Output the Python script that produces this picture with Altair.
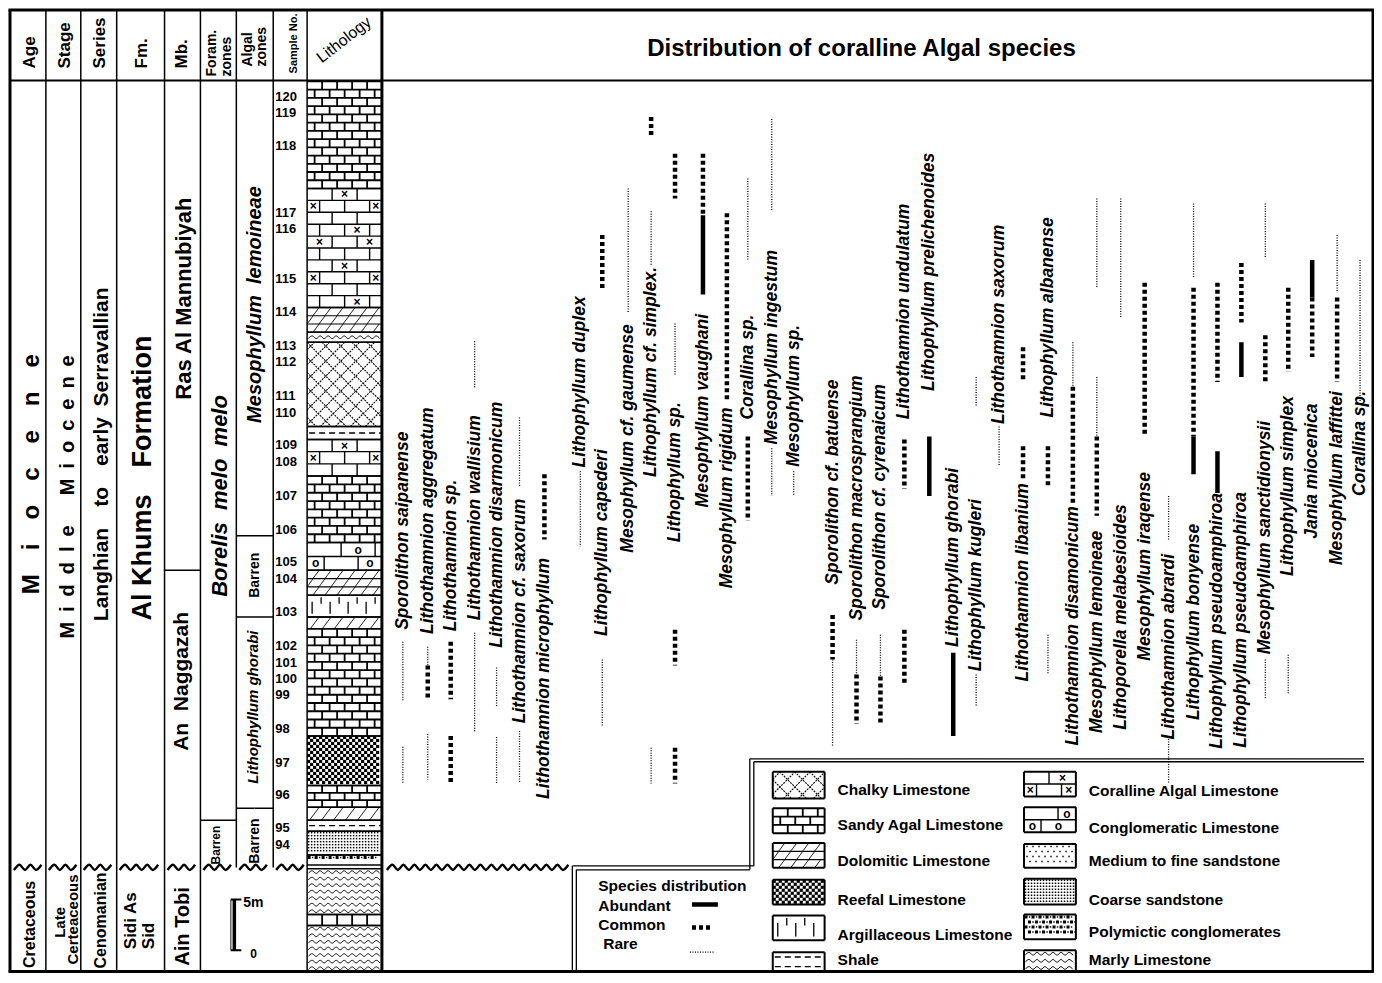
import altair as alt
import numpy as np
import pandas as pd

W, H = 1366, 965
X_DOMAIN = [6, 1376]      # horizontal position on the sheet
Y_DOMAIN = [0, 97.3]      # height above the base of the section (m)
PXU = W / (X_DOMAIN[1] - X_DOMAIN[0])
PXM = H / (Y_DOMAIN[1] - Y_DOMAIN[0])
FONT = "Liberation Sans"

# ---------------------------------------------------------------- data
SAMPLE_NO = [120, 119, 118, 117, 116, 115, 114, 113, 112, 111, 110, 109, 108,
             107, 106, 105, 104, 103, 102, 101, 100, 99, 98, 97, 96, 95, 94]
SAMPLE_M = [88.3, 86.7, 83.4, 76.6, 75.0, 70.0, 66.6, 63.2, 61.6, 58.2, 56.5, 53.2, 51.5,
            48.1, 44.7, 41.4, 39.7, 36.4, 33.0, 31.3, 29.6, 28.0, 24.6, 21.2, 17.9, 14.6, 12.9]

LITHO_TOP = [89.9, 79.1, 67.1, 64.6, 63.6, 55.1, 53.8, 50.1, 43.4, 40.6, 38.1,
             35.9, 34.7, 23.9, 18.9, 16.7, 15.4, 14.3, 11.9, 10.5, 5.9, 4.8]
LITHO_BASE = [79.1, 67.1, 64.6, 63.6, 55.1, 53.8, 50.1, 43.4, 40.6, 38.1, 35.9,
              34.7, 23.9, 18.9, 16.7, 15.4, 14.3, 11.9, 10.9, 5.9, 4.8, 0.15]
LITHO_TYPE = ["sandy", "coralline", "dolomitic", "marly", "chalky", "shale", "coralline",
              "sandy", "conglomeratic", "dolomitic", "argillaceous", "dolomitic", "sandy",
              "reefal", "sandy", "dolomitic", "shale", "coarse", "polymictic", "marly",
              "sandy", "marly"]

SPECIES = [
    "Sporolithon saipanense", "Lithothamnion aggregatum", "Lithothamnion sp.",
    "Lithothamnion wallisium", "Lithothamnion disarmonicum", "Lithothamnion cf. saxorum",
    "Lithothamnion microphyllum", "Lithophyllum duplex", "Lithophyllum capederi",
    "Mesophyllum cf. gaumense", "Lithophyllum cf. simplex.", "Lithophyllum sp.",
    "Mesophyllum vaughani", "Mesophyllum rigidum", "Corallina sp.", "Mesophyllum ingestum",
    "Mesophyllum sp.", "Sporolithon cf. batuense", "Sporolithon macrosprangium",
    "Sporolithon cf. cyrenaicum", "Lithothamnion undulatum", "Lithophyllum prelichenoides",
    "Lithophyllum ghorabi", "Lithophyllum kugleri", "Lithothamnion saxorum",
    "Lithothamnion libanium", "Lithophyllum albanense", "Lithothamnion disamonicum",
    "Mesophyllum lemoineae", "Lithoporella melabesioides", "Mesophyllum iraqense",
    "Lithothamnion abrardi", "Lithophyllum bonyense", "Lithophyllum pseudoamphiroa",
    "Lithophyllum pseudoamphiroa", "Mesophyllum sanctidionysii", "Lithophyllum simplex",
    "Jania miocenica", "Mesophyllum laffittei", "Corallina sp."]
SPECIES_X = [402, 427, 450, 474, 496, 519, 544, 580, 602, 628, 651, 675, 703, 727, 748,
             772, 794, 833, 857, 881, 905, 930, 954, 977, 1000, 1024, 1049, 1074, 1098,
             1122, 1146, 1170, 1195, 1219, 1243, 1267, 1290, 1314, 1339, 1362]
LABEL_M = [44.6, 45.6, 42.1, 45.9, 45.2, 36.5, 29.7, 59.6, 43.4, 53.9, 60.6, 50.5, 56.7,
           47.9, 61.1, 63.1, 58.2, 49.5, 47.9, 48.0, 66.7, 70.7, 41.9, 39.1, 65.4, 39.4,
           66.1, 35.0, 34.4, 35.9, 41.0, 32.9, 35.4, 35.5, 35.6, 43.9, 49.1, 50.6, 49.9, 53.4]
# (top m, base m, abundance) for each species, same order as SPECIES
RANGES = [
    [(33.4, 27.5, "rare"), (22.8, 19.1, "rare")],
    [(32.9, 31.0, "rare"), (31.0, 27.5, "common"), (24.1, 19.5, "rare")],
    [(33.4, 27.6, "common"), (23.9, 19.1, "common")],
    [(63.7, 58.9, "rare"), (34.3, 24.3, "rare")],
    [(30.8, 26.8, "rare"), (23.8, 19.1, "rare")],
    [(56.0, 49.0, "rare"), (24.4, 19.1, "rare")],
    [(50.3, 43.7, "common")],
    [(50.6, 43.0, "rare")],
    [(74.4, 68.8, "common"), (31.6, 24.9, "rare")],
    [(79.1, 66.6, "rare")],
    [(86.3, 84.3, "common"), (76.8, 71.3, "rare"), (22.7, 19.1, "rare")],
    [(82.6, 78.1, "common"), (65.5, 60.3, "rare"), (34.6, 31.0, "common"), (22.7, 19.1, "common")],
    [(82.6, 76.4, "common"), (76.4, 68.4, "abundant")],
    [(76.6, 57.8, "common")],
    [(80.1, 71.9, "rare"), (54.1, 45.6, "common")],
    [(86.1, 76.8, "rare"), (52.9, 48.1, "rare")],
    [(50.6, 48.1, "rare")],
    [(36.1, 31.6, "common"), (31.6, 22.9, "rare")],
    [(33.6, 30.1, "rare"), (30.1, 25.1, "common")],
    [(34.1, 29.9, "rare"), (29.9, 25.1, "common")],
    [(53.8, 48.8, "common"), (34.6, 29.1, "common")],
    [(54.1, 48.1, "abundant")],
    [(32.3, 23.9, "abundant")],
    [(60.1, 57.1, "rare"), (30.1, 26.9, "rare")],
    [(55.1, 51.1, "rare")],
    [(63.1, 59.6, "common"), (53.1, 49.6, "common")],
    [(53.1, 49.1, "common"), (34.1, 30.1, "rare")],
    [(63.6, 59.1, "rare"), (59.1, 47.1, "common")],
    [(78.1, 69.1, "rare"), (60.1, 54.1, "rare"), (54.1, 46.1, "common")],
    [(78.1, 66.1, "rare")],
    [(69.6, 54.1, "common")],
    [(48.1, 43.6, "rare"), (23.6, 19.1, "rare")],
    [(77.6, 70.1, "rare"), (69.1, 54.1, "common"), (54.1, 50.3, "abundant")],
    [(69.6, 59.6, "common"), (52.6, 48.4, "abundant")],
    [(71.6, 65.6, "common"), (63.6, 60.1, "abundant")],
    [(77.6, 72.1, "rare"), (64.3, 59.6, "common"), (31.6, 27.6, "rare")],
    [(69.1, 60.6, "common"), (32.1, 28.1, "rare")],
    [(71.9, 68.1, "abundant"), (68.1, 62.1, "common")],
    [(74.4, 68.6, "rare"), (68.1, 59.6, "common")],
    [(71.9, 57.6, "rare")],
]

LEG_TYPES = [["chalky", "sandy", "dolomitic", "reefal", "argillaceous", "shale"],
             ["coralline", "conglomeratic", "medium", "coarse", "polymictic", "marly"]]
LEG_NAMES = [["Chalky Limestone", "Sandy Agal Limestone", "Dolomitic Limestone",
              "Reefal Limestone", "Argillaceous Limestone", "Shale"],
             ["Coralline Algal Limestone", "Conglomeratic Limestone", "Medium to fine sandstone",
              "Coarse sandstone", "Polymictic conglomerates", "Marly Limestone"]]
LEG_BOX_TOP = [[20.3, 16.6, 13.1, 9.4, 5.8, 2.1], [20.3, 16.7, 13.0, 9.5, 5.9, 2.3]]
LEG_BOX_BASE = [[17.6, 14.1, 10.6, 6.9, 3.3, 0.15], [17.8, 14.2, 10.6, 6.9, 3.4, 0.15]]
LEG_LABEL_M = [[18.5, 14.9, 11.3, 7.4, 3.8, 1.3], [18.4, 14.6, 11.3, 7.4, 4.1, 1.3]]
LEG_BOX_X = [(773, 825), (1025, 1077)]
LEG_LABEL_X = [838, 1090]

# ---------------------------------------------------------------- builders
rules, squares, texts, waves = [], [], [], []


def rule(x, x2, y, y2, w=1.5, d="solid"):
    rules.append(dict(x=float(x), x2=float(x2), y=float(y), y2=float(y2), w=float(w), d=d))


def dot(x, y, s):
    squares.append(dict(x=float(x), y=float(y), s=float(s)))


def txt(t, x, y, fs, ang=0, align="center", italic=False, bold=True, font=FONT):
    texts.append(dict(t=t, x=float(x), y=float(y), fs=float(fs), ang=float(ang), align=align,
                      style="italic" if italic else "normal",
                      weight="bold" if bold else "normal", font=font))


wave_count = [0]


def wave(x0, x1, y, amp=1.4, step=4.0, w=0.9):
    gid = wave_count[0]
    wave_count[0] += 1
    for k, p in enumerate(np.arange(1, (x1 - x0) * PXU - 0.5, step)):
        waves.append(dict(x=float(x0 + p / PXU), y=float(y + (amp / PXM) * (1 if k % 2 else -1)),
                          g=gid, w=float(w)))


BRICK = {"sandy": (8.4, 15, 1.8), "coralline": (11.7, 25, 1.4),
         "conglomeratic": (13.5, 34, 1.4), "dolomitic": (9.5, 12, 1.1)}


def fill(kind, x0, x1, top, base):
    wpx = (x1 - x0) * PXU
    hpx = (top - base) * PXM
    X = lambda p: x0 + p / PXU
    Y = lambda p: top - p / PXM
    if kind in BRICK:
        row, brick, lw = BRICK[kind]
        n = max(1, int(round(hpx / row)))
        h = hpx / n
        for r in range(1, n):
            rule(x0, x1, Y(r * h), Y(r * h), lw)
        for r in range(n):
            start = brick / 2 if r % 2 else brick
            verts = list(np.arange(start, wpx - 2, brick))
            for xs in verts:
                if kind == "dolomitic":
                    rule(X(max(0, xs - 0.75 * h)), X(xs), Y((r + 1) * h), Y(r * h), 1.0)
                else:
                    rule(X(xs), X(xs), Y(r * h), Y((r + 1) * h), lw)
            edges = [0.0] + verts + [wpx]
            centers = [(a + b) / 2 for a, b in zip(edges[:-1], edges[1:]) if b - a > 12]
            yc = Y((r + 0.5) * h)
            if kind == "coralline" and centers:
                pick = [[centers[len(centers) // 2]], [centers[0], centers[-1]], []][r % 3]
                for c in sorted(set(pick)):
                    txt("×", X(c), yc, 12)
            if kind == "conglomeratic" and centers:
                pick = [[centers[-1]], [centers[0], centers[-1]]][r % 2]
                for c in sorted(set(pick)):
                    txt("o", X(c), yc, 12)
    elif kind == "chalky":
        s = 15.0
        for c in np.arange(-wpx, hpx, s):
            u0, u1 = max(0, -c), min(wpx, hpx - c)
            if u1 > u0:
                rule(X(u0), X(u1), Y(u0 + c), Y(u1 + c), 1.1, "chalk")
        for c in np.arange(s / 2, wpx + hpx, s):
            u0, u1 = max(0, c - hpx), min(wpx, c)
            if u1 > u0:
                rule(X(u0), X(u1), Y(c - u0), Y(c - u1), 1.1, "chalk")
    elif kind == "shale":
        n = max(1, int(hpx // 7.5))
        for r in range(n):
            yy = Y((r + 0.5) * hpx / n)
            rule(X(2), x1, yy, yy, 1.3, "shale")
    elif kind == "argillaceous":
        for k, xs in enumerate(np.arange(5, wpx - 2, 9)):
            a, b = (0.3, 0.85) if k % 2 == 0 else (0.1, 0.4)
            rule(X(xs), X(xs), Y(a * hpx), Y(b * hpx), 1.3)
    elif kind == "reefal":
        for i in range(int(wpx // 3)):
            for j in range(int(hpx // 3)):
                if (i + j) % 2 == 0:
                    dot(X(1.5 + 3 * i), Y(1.5 + 3 * j), 10)
    elif kind == "coarse":
        for i in range(int(wpx // 3)):
            for j in range(int(hpx // 3)):
                dot(X(1.5 + 3 * i), Y(1.5 + 3 * j), 2.2)
    elif kind == "medium":
        for j in range(int(hpx // 5)):
            for i in range(int(wpx // 6)):
                dot(X(3 + 6 * i + (3 if j % 2 else 0)), Y(2.5 + 5 * j), 2)
    elif kind == "polymictic":
        for j in range(int(hpx // 5)):
            for i in range(int(wpx // 7)):
                off = 3.5 if j % 2 else 0
                dot(X(2 + 7 * i + off), Y(2.5 + 5 * j), 9)
                dot(X(5.5 + 7 * i + off), Y(2.5 + 5 * j), 2)
    elif kind == "marly":
        n = max(1, int(round(hpx / 7)))
        for r in range(n):
            wave(x0, x1, Y((r + 0.5) * hpx / n))


# ---------------------------------------------------------------- frame and columns
TOP, HEAD, BASE = 97.1, 90.0, 0.15
LEFT, RIGHT = 8, 1375
UNCONF = 10.65
rule(LEFT - 1.5, RIGHT + 1.5, TOP, TOP, 3)
rule(LEFT - 1.5, RIGHT + 1.5, BASE, BASE, 3)
rule(LEFT, LEFT, BASE, TOP, 3)
rule(RIGHT, RIGHT, BASE, TOP, 3)
rule(LEFT, RIGHT, HEAD, HEAD, 2)
COL_EDGES = [44, 79, 115, 163, 199, 235, 272, 306]
COL_FULL = [True, True, True, True, True, False, False, True]
for xe, full in zip(COL_EDGES, COL_FULL):
    rule(xe, xe, BASE if full else UNCONF, TOP, 1.5)
rule(381, 381, BASE, TOP, 3)
rule(163, 199, 40.6, 40.6, 1.5)
rule(199, 235, 15.4, 15.4, 1.5)
for m in [44.1, 35.9, 16.6]:
    rule(235, 272, m, m, 1.5)

for t, b, k in zip(LITHO_TOP, LITHO_BASE, LITHO_TYPE):
    fill(k, 306, 381, t, b)
    rule(306, 381, t, t, 1.5)
    rule(306, 381, b, b, 1.5)

# legend frames (double lines)
rule(572, 572, BASE, 10.8, 1.3)
rule(576, 576, BASE, 10.4, 1.3)
rule(572, 754, 10.8, 10.8, 1.3)
rule(576, 750, 10.4, 10.4, 1.3)
rule(750, 750, 10.4, 21.6, 1.3)
rule(754, 754, 10.8, 21.3, 1.3)
rule(750, 1366, 21.6, 21.6, 1.3)
rule(754, 1366, 21.3, 21.3, 1.3)

for col in range(2):
    x0, x1 = LEG_BOX_X[col]
    for k, name, t, b, lm in zip(LEG_TYPES[col], LEG_NAMES[col], LEG_BOX_TOP[col],
                                 LEG_BOX_BASE[col], LEG_LABEL_M[col]):
        fill(k, x0, x1, t, b)
        rule(x0, x1, t, t, 2)
        rule(x0, x1, b, b, 2)
        rule(x0, x0, b, t, 2)
        rule(x1, x1, b, t, 2)
        txt(name, LEG_LABEL_X[col], lm, 15.5, align="left")

# scale bar
rule(233, 233, 2.3, 7.4, 3.5)
rule(229.5, 229.5, 2.3, 7.4, 1)
rule(229.5, 240, 7.4, 7.4, 2)
rule(229.5, 240, 2.3, 2.3, 2)
txt("5m", 242, 7.1, 14, align="left")
txt("0", 249, 1.9, 12, align="left")

# species ranges and labels
WIDTH = {"abundant": 4.5, "common": 4.5, "rare": 1.3}
for name, xs, lm, segs in zip(SPECIES, SPECIES_X, LABEL_M, RANGES):
    for t, b, k in segs:
        rule(xs, xs, t, b, WIDTH[k], k)
    txt(name, xs, lm, 17.5, ang=270, italic=True)

txt("Species distribution", 598, 8.8, 15.5, align="left")
txt("Abundant", 598, 6.8, 15.5, align="left")
txt("Common", 598, 4.8, 15.5, align="left")
txt("Rare", 603, 2.9, 15.5, align="left")
rule(692, 718, 6.9, 6.9, WIDTH["abundant"], "abundant")
rule(692, 713, 4.6, 4.6, WIDTH["common"], "common")
rule(690, 715, 2.1, 2.1, WIDTH["rare"], "rare")

# unconformity (heavy wavy line)
for a, b in [(9, 44), (44, 79), (79, 115), (115, 163), (163, 199), (199, 235), (235, 272),
             (272, 306), (383, 570)]:
    wave(a + 2, b - 1, UNCONF, amp=2.6, step=5.5, w=2.4)

# header
for label, xh in [("Age", 28), ("Stage", 63), ("Series", 98), ("Fm.", 140), ("Mb.", 181)]:
    txt(label, xh, 91.2, 17, ang=270, align="left")
txt("Foram.", 211, 90.4, 14, ang=270, align="left")
txt("zones", 226, 90.4, 14, ang=270, align="left")
txt("Algal", 247, 91.4, 14, ang=270, align="left")
txt("zones", 261, 91.4, 14, ang=270, align="left")
txt("Sample No.", 293, 90.7, 11, ang=270, align="left")
txt("Lithology", 343, 94.1, 16, ang=322, bold=False)
txt("Distribution of coralline Algal species", 862, 93.2, 24)

E, N, NB = "\u2003", "\u2002", "\u00a0"
txt(E.join("Miocene"), 30, 50.3, 24, ang=270)
txt(N.join("Middle") + E + N + N.join("Miocene"), 66, 48.0, 20, ang=270)
txt("Langhian" + E + "to" + E + "early" + N + "Serravallian", 100, 52.3, 21, ang=270)
txt("Al" + NB + "Khums" + E + "Formation", 141, 49.9, 27, ang=270)
txt("Ras Al Mannubiyah", 183, 68.0, 22, ang=270)
txt("An" + NB + NB + "Naggazah", 181, 29.4, 21, ang=270)
txt("Borelis" + NB + NB + "melo" + NB + NB + "melo", 219, 48.1, 22, ang=270, italic=True)
txt("Mesophyllum" + NB + NB + "lemoineae", 254, 67.4, 20, ang=270, italic=True)
txt("Barren", 254, 40.1, 14, ang=270)
txt("Lithophyllum ghorabi", 252, 26.8, 15, ang=270, italic=True)
txt("Barren", 254, 13.3, 14, ang=270)
txt("Barren", 215, 12.9, 12, ang=270)
txt("Cretaceous", 28, 4.9, 16, ang=270)
txt("Late", 58, 5.1, 15, ang=270)
txt("Certeaceous", 71, 5.4, 15, ang=270)
txt("Cenomanian", 99, 5.3, 16, ang=270)
txt("Sidi As", 129, 2.4, 17, ang=270, align="left")
txt("Sid", 147, 2.4, 17, ang=270, align="left")
txt("Ain Tobi", 182, 4.7, 20, ang=270)
for n, m in zip(SAMPLE_NO, SAMPLE_M):
    txt(str(n), 274, m, 13, align="left")

# ---------------------------------------------------------------- chart
xs = alt.Scale(domain=X_DOMAIN, nice=False, zero=False)
ys = alt.Scale(domain=Y_DOMAIN, nice=False, zero=False)
XE = alt.X("x:Q", scale=xs, axis=None)
YE = alt.Y("y:Q", scale=ys, axis=None)

DASH_NAMES = ["solid", "abundant", "common", "rare", "shale", "chalk"]
DASH_PATTERNS = [[1, 0], [1, 0], [4, 3], [1, 1.5], [6, 4], [2, 1]]

rule_layer = alt.Chart(pd.DataFrame(rules)).mark_rule(color="black", strokeCap="butt").encode(
    x=XE, x2="x2:Q", y=YE, y2="y2:Q",
    strokeWidth=alt.StrokeWidth("w:Q", scale=None),
    strokeDash=alt.StrokeDash("d:N", scale=alt.Scale(domain=DASH_NAMES, range=DASH_PATTERNS),
                              legend=None),
)
sq_layer = alt.Chart(pd.DataFrame(squares)).mark_square(
    color="black", opacity=1, filled=True, strokeWidth=0).encode(
    x=XE, y=YE, size=alt.Size("s:Q", scale=None))
wave_layer = alt.Chart(pd.DataFrame(waves)).mark_line(
    color="black", interpolate="monotone").encode(
    x=XE, y=YE, detail="g:N", strokeWidth=alt.StrokeWidth("w:Q", scale=None))

layers = [rule_layer, sq_layer, wave_layer]
tdf = pd.DataFrame(texts)
for (font, weight, style, align), g in tdf.groupby(["font", "weight", "style", "align"]):
    layers.append(
        alt.Chart(g[["t", "x", "y", "fs", "ang"]].reset_index(drop=True)).mark_text(
            font=font, fontWeight=weight, fontStyle=style, align=align,
            baseline="middle", color="black").encode(
            x=XE, y=YE, text="t:N",
            size=alt.Size("fs:Q", scale=None),
            angle=alt.Angle("ang:Q", scale=None)))

chart = alt.layer(*layers).properties(
    width=W, height=H, padding=0, background="white",
    autosize=alt.AutoSizeParams(type="none"),
).configure_view(stroke=None)

chart.save("out.html", embed_options={"renderer": "svg", "actions": False})
